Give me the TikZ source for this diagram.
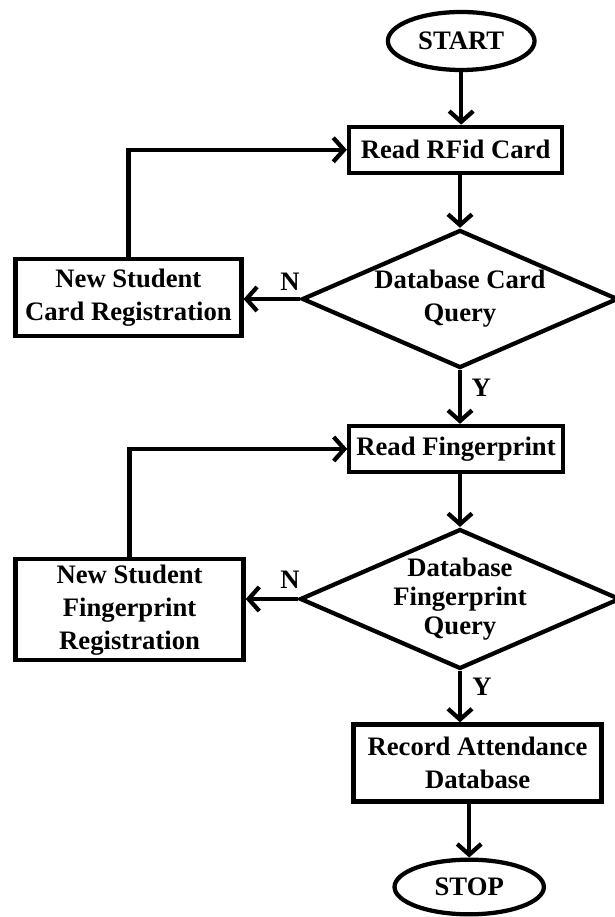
\documentclass[tikz,border=0pt]{standalone}
\usepackage{fontspec}
\setmainfont{Liberation Serif}
\usetikzlibrary{shapes.geometric,arrows.meta}

\begin{document}
\begin{tikzpicture}[x=30pt,y=30pt,
  font=\bfseries\fontsize{20}{24.75}\selectfont,
  term/.style={ellipse,draw,line width=3.2pt,inner sep=0pt},
  proc/.style={rectangle,draw,line width=3.2pt,align=center,inner sep=0pt},
  dec/.style={diamond,draw,line width=3.2pt,align=center,inner sep=0pt,
    shape aspect=2.29,minimum width=237pt,minimum height=103.5pt},
  conn/.style={line width=3.2pt,-{Straight Barb[length=8pt,width=18pt]}}]
\useasboundingbox (0,0) rectangle (15.35,22.925);

% Card stage
\node[term,minimum width=110pt,minimum height=43.5pt] (start) at (11.53,21.9) {START};
\node[proc,minimum width=160pt,minimum height=34.5pt] (rfid) at (11.39,19.18) {Read RFid Card};
\node[dec] (dcard) at (11.5,15.45) {Database Card\\Query};
\node[proc,minimum width=169.5pt,minimum height=57.75pt] (ncard) at (3.21,15.48) {New Student\\Card Registration};

% Fingerprint stage
\node[proc,minimum width=160pt,minimum height=34.5pt] (readfp) at (11.4,11.7) {Read Fingerprint};
\node[dec,font=\bfseries\fontsize{20}{21.5}\selectfont] (dfp) at (11.5,7.95) {Database\\Fingerprint\\Query};
\node[proc,minimum width=171pt,minimum height=75.75pt] (nfp) at (3.24,7.68) {New Student\\Fingerprint\\Registration};

% End
\node[proc,minimum width=186pt,minimum height=57.75pt] (rec) at (11.94,3.85) {Record Attendance\\Database};
\node[term,minimum width=112pt,minimum height=41pt] (stop) at (11.73,0.75) {STOP};

% Branch labels
\node (n1) at (7.25,15.88) {N};
\node (y1) at (12.03,13.23) {Y};
\node (n2) at (7.25,8.43) {N};
\node (y2) at (12.05,5.75) {Y};

% Main flow
\draw[conn] (start) -- (start |- rfid.north);
\draw[conn] (dcard.north |- rfid.south) -- (dcard);
\draw[conn] (dcard) -- (dcard |- readfp.north);
\draw[conn] (dfp.north |- readfp.south) -- (dfp);
\draw[conn] (dfp) -- (dfp |- rec.north);
\draw[conn] (stop |- rec.south) -- (stop);

% Registration loops
\draw[conn] (dcard.west) -- (dcard.west -| ncard.east);
\draw[conn] (ncard) |- (rfid);
\draw[conn] (dfp.west) -- (dfp.west -| nfp.east);
\draw[conn] (nfp) |- (readfp);

\end{tikzpicture}
\end{document}
